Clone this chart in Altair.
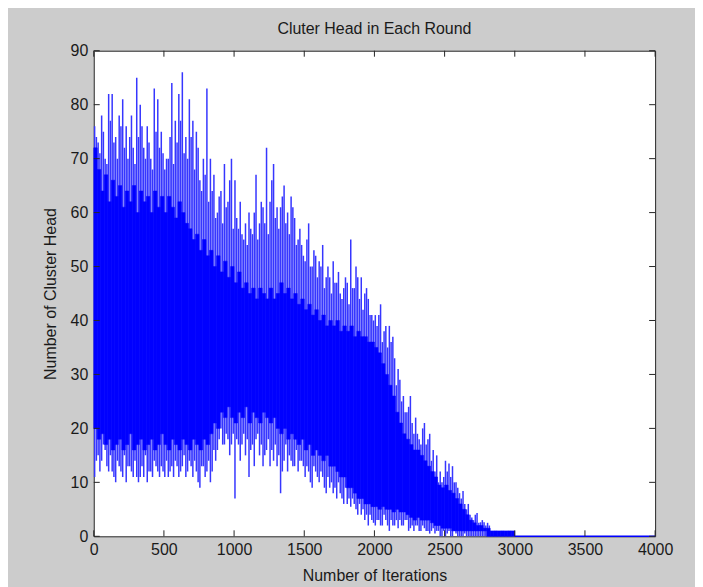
import altair as alt
import pandas as pd

# Iteration bins (start of each 25-iteration bin) for the noisy part of the series
iterations = list(range(0, 3000, 25))

# Spike tops (max of the series inside each bin)
spike_high = [76, 73, 78, 70, 82, 82, 74, 78, 81, 76, 74, 72, 85, 80, 72, 76, 70, 83, 81, 75,
              68, 70, 84, 77, 82, 86, 74, 81, 77, 75, 66, 70, 83, 70, 67, 60, 64, 69, 62, 70,
              66, 57, 56, 58, 60, 56, 67, 58, 61, 72, 62, 69, 61, 61, 65, 60, 63, 59, 55, 54,
              51, 58, 50, 52, 51, 54, 48, 48, 51, 47, 45, 46, 47, 55, 46, 48, 48, 45, 44, 41,
              41, 41, 36, 39, 39, 37, 28, 29, 26, 23, 26, 19, 19, 17, 21, 18, 14, 12, 10, 10,
              14, 13.5, 13, 10, 8, 8.4, 5, 4, 3, 4.3, 2.6, 2.6, 2.5, 1, 1, 1, 1, 1, 1, 1]

# Spike bottoms (min of the series inside each bin)
spike_low = [11, 15, 14, 16, 12, 12, 10, 13, 11, 10, 13, 11, 11, 11, 11, 10, 12, 14, 12, 13,
             11, 11, 13, 14, 11, 13, 11, 14, 11, 12, 9, 13, 12, 10, 16, 16, 20, 17, 18, 17,
             7, 17, 17, 15, 11, 17, 18, 15, 13, 16, 13, 14, 13, 8, 14, 12, 14, 13, 12, 14,
             11, 12, 9, 12, 10, 11, 8, 9, 8, 7, 8, 6, 6, 5.5, 6, 4, 4, 3, 2, 3,
             2, 3, 2, 3, 1, 2, 3, 3, 2, 3, 1.5, 1, 2, 1, 1.5, 1, 1, 0.5, 1, 0,
             0, 1, 0, 0.5, 0, 0, 0, 0, 0, 0, 0, 0, 0, 0, 0, 0, 0, 0, 0, 0]

# Second swing of the series inside each bin (half a bin later)
spike_high2 = [74, 71, 75, 69, 77, 73, 70, 76, 72, 70, 78, 69, 74, 76, 70, 73, 68, 75, 72, 71,
               70, 74, 69, 73, 77, 71, 70, 74, 68, 72, 64, 67, 62, 64, 59, 63, 58, 61, 66, 57,
               59, 62, 55, 54, 57, 60, 55, 62, 58, 56, 66, 59, 57, 63, 58, 56, 61, 54, 57, 52,
               55, 50, 53, 48, 50, 46, 50, 45, 47, 49, 44, 48, 43, 46, 50, 44, 42, 46, 41, 40,
               39, 43, 38, 35, 36, 33, 31, 25, 23, 24, 21, 22, 18, 20, 17, 19, 16, 15, 12, 11,
               12, 11, 10, 9, 7, 6, 6, 3.5, 4, 2.5, 3, 2, 2, 1, 1, 1, 1, 1, 1, 1]

spike_low2 = [14, 12, 17, 13, 15, 11, 14, 12, 15, 13, 12, 14, 10, 13, 15, 12, 11, 13, 11, 12,
              14, 12, 11, 13, 12, 15, 12, 13, 14, 10, 13, 11, 14, 12, 14, 18, 17, 19, 15, 19,
              18, 14, 19, 18, 16, 13, 19, 17, 15, 18, 16, 17, 15, 12, 17, 15, 13, 16, 14, 13,
              13, 10, 13, 11, 12, 9, 11, 10, 9, 10, 7, 9, 7, 7, 5, 6, 5, 4, 4, 2.5,
              3, 2, 4, 2, 3, 2, 1.5, 2, 3, 1, 2, 2, 1, 2, 1, 0.5, 1.5, 1, 0, 1,
              0.5, 0, 1, 0, 0, 0.5, 0, 0, 0, 0, 0, 0, 0, 0, 0, 0, 0, 0, 0, 0]

# Dense core of the band (where the line overlaps into a solid area)
core_high = [72, 68, 64, 67, 62, 66, 63, 65, 61, 64, 62, 65, 60, 64, 62, 63, 60, 64, 61, 63,
             60, 63, 61, 59, 62, 60, 58, 57, 55, 56, 53, 55, 52, 53, 50, 52, 49, 51, 48, 50,
             47, 49, 46, 47, 45, 46, 44, 46, 45, 44, 46, 44, 45, 47, 45, 46, 44, 45, 43, 44,
             42, 43, 41, 42, 40, 41, 39, 40, 39, 40, 38, 39, 38, 39, 37, 38, 37, 37, 36, 36,
             35, 34, 32, 30, 28, 26, 23, 21, 19, 18, 17, 16, 16, 15, 14, 13, 12, 11, 9.5, 9,
             9.5, 8.5, 8, 7, 6, 5, 4, 3, 2.5, 2, 2, 1.5, 1.5, 1, 1, 1, 1, 1, 1, 1]

core_low = [20, 18, 19, 17, 18, 16, 17, 18, 16, 17, 19, 16, 17, 18, 16, 17, 18, 16, 17, 19,
            17, 16, 18, 17, 16, 18, 17, 16, 18, 17, 16, 18, 17, 19, 21, 20, 23, 22, 24, 22,
            21, 23, 22, 24, 21, 23, 22, 21, 23, 22, 21, 22, 20, 19, 20, 18, 19, 18, 17, 18,
            16, 17, 15, 16, 15, 14, 15, 13, 13, 12, 11, 11, 9, 9, 8, 7, 7, 6, 6, 5.5,
            5.5, 5, 5.5, 5, 5, 4.5, 5, 4.5, 4.5, 4, 3.5, 3, 3.5, 3, 3, 3, 2.5, 2, 2, 1.5,
            1.5, 1.5, 1, 1, 1, 1, 1, 1, 1, 1, 1, 1, 0, 0, 0, 0, 0, 0, 0, 0]

# Flat tail of the series after all nodes died
tail_iter = [3000, 4000]
tail_value = [0, 0]

x_ticks = [0, 500, 1000, 1500, 2000, 2500, 3000, 3500, 4000]
y_ticks = [0, 10, 20, 30, 40, 50, 60, 70, 80, 90]

title_text = "Cluter Head in Each Round"

BIN = 25
W, H = 563, 487
FONT = "Liberation Sans"
TXT = "#1a1a1a"
SPIKE = "#3636ff"

df = pd.DataFrame({
    "it": iterations,
    "hi": spike_high,
    "lo": spike_low,
    "hi2": spike_high2,
    "lo2": spike_low2,
    "chi": core_high,
    "clo": core_low,
})
df["it_end"] = df["it"] + BIN
df["it_a"] = df["it"] + BIN * 0.25
df["it_b"] = df["it"] + BIN * 0.75

tail_df = pd.DataFrame({"it": tail_iter, "v": tail_value})
xt_df = pd.DataFrame({"t": x_ticks})
yt_df = pd.DataFrame({"t": y_ticks})
title_df = pd.DataFrame({"t": [title_text]})

xs = alt.Scale(domain=[0, 4000], nice=False, zero=False)
ys = alt.Scale(domain=[0, 90], nice=False, zero=False)

x_axis = alt.Axis(values=x_ticks, format="d", ticks=False, domain=False, grid=False,
                  labelFont=FONT, labelFontSize=16, labelColor=TXT, labelPadding=5,
                  titleFont=FONT, titleFontSize=16, titleFontWeight="normal",
                  titleColor=TXT, titlePadding=10, labelFlush=False)
y_axis = alt.Axis(values=y_ticks, format="d", ticks=False, domain=False, grid=False,
                  labelFont=FONT, labelFontSize=16, labelColor=TXT, labelPadding=6,
                  titleFont=FONT, titleFontSize=16, titleFontWeight="normal",
                  titleColor=TXT, titlePadding=12, labelFlush=False)

spikes = alt.Chart(df).mark_rule(color=SPIKE, strokeWidth=1.5).encode(
    x=alt.X("it_a:Q", scale=xs, axis=x_axis, title="Number of Iterations"),
    y=alt.Y("hi:Q", scale=ys, axis=y_axis, title="Number of Cluster Head"),
    y2="lo:Q",
)

spikes2 = alt.Chart(df).mark_rule(color=SPIKE, strokeWidth=1.5).encode(
    x=alt.X("it_b:Q", scale=xs),
    y=alt.Y("hi2:Q", scale=ys),
    y2="lo2:Q",
)

core = alt.Chart(df).mark_bar(color="#0000ff", stroke="#0000ff", strokeWidth=0.5).encode(
    x=alt.X("it:Q", scale=xs),
    x2="it_end:Q",
    y=alt.Y("clo:Q", scale=ys),
    y2="chi:Q",
)

tail = alt.Chart(tail_df).mark_line(color="#0000ff", strokeWidth=1.5).encode(
    x=alt.X("it:Q", scale=xs),
    y=alt.Y("v:Q", scale=ys),
)

tick_color = "#262626"
xb = alt.Chart(xt_df).mark_rule(color=tick_color, strokeWidth=1).encode(
    x=alt.X("t:Q", scale=xs), y=alt.value(H), y2=alt.value(H - 6))
xtop = alt.Chart(xt_df).mark_rule(color=tick_color, strokeWidth=1).encode(
    x=alt.X("t:Q", scale=xs), y=alt.value(0), y2=alt.value(6))
yl = alt.Chart(yt_df).mark_rule(color=tick_color, strokeWidth=1).encode(
    y=alt.Y("t:Q", scale=ys), x=alt.value(0), x2=alt.value(6))
yr = alt.Chart(yt_df).mark_rule(color=tick_color, strokeWidth=1).encode(
    y=alt.Y("t:Q", scale=ys), x=alt.value(W), x2=alt.value(W - 6))

title = alt.Chart(title_df).mark_text(font=FONT, fontSize=16, color=TXT, align="center",
                                      baseline="middle").encode(
    text="t:N", x=alt.value(W / 2), y=alt.value(-22))

chart = alt.layer(spikes, spikes2, core, tail, xb, xtop, yl, yr, title).properties(
    width=W,
    height=H,
    background="#cccccc",
    padding={"left": 86, "top": 42, "right": 40, "bottom": 50},
    autosize=alt.AutoSizeParams(type="none"),
).configure_view(
    fill="white", stroke="#262626", strokeWidth=1
)

chart.save("out.html", embed_options={"renderer": "svg", "actions": False})
